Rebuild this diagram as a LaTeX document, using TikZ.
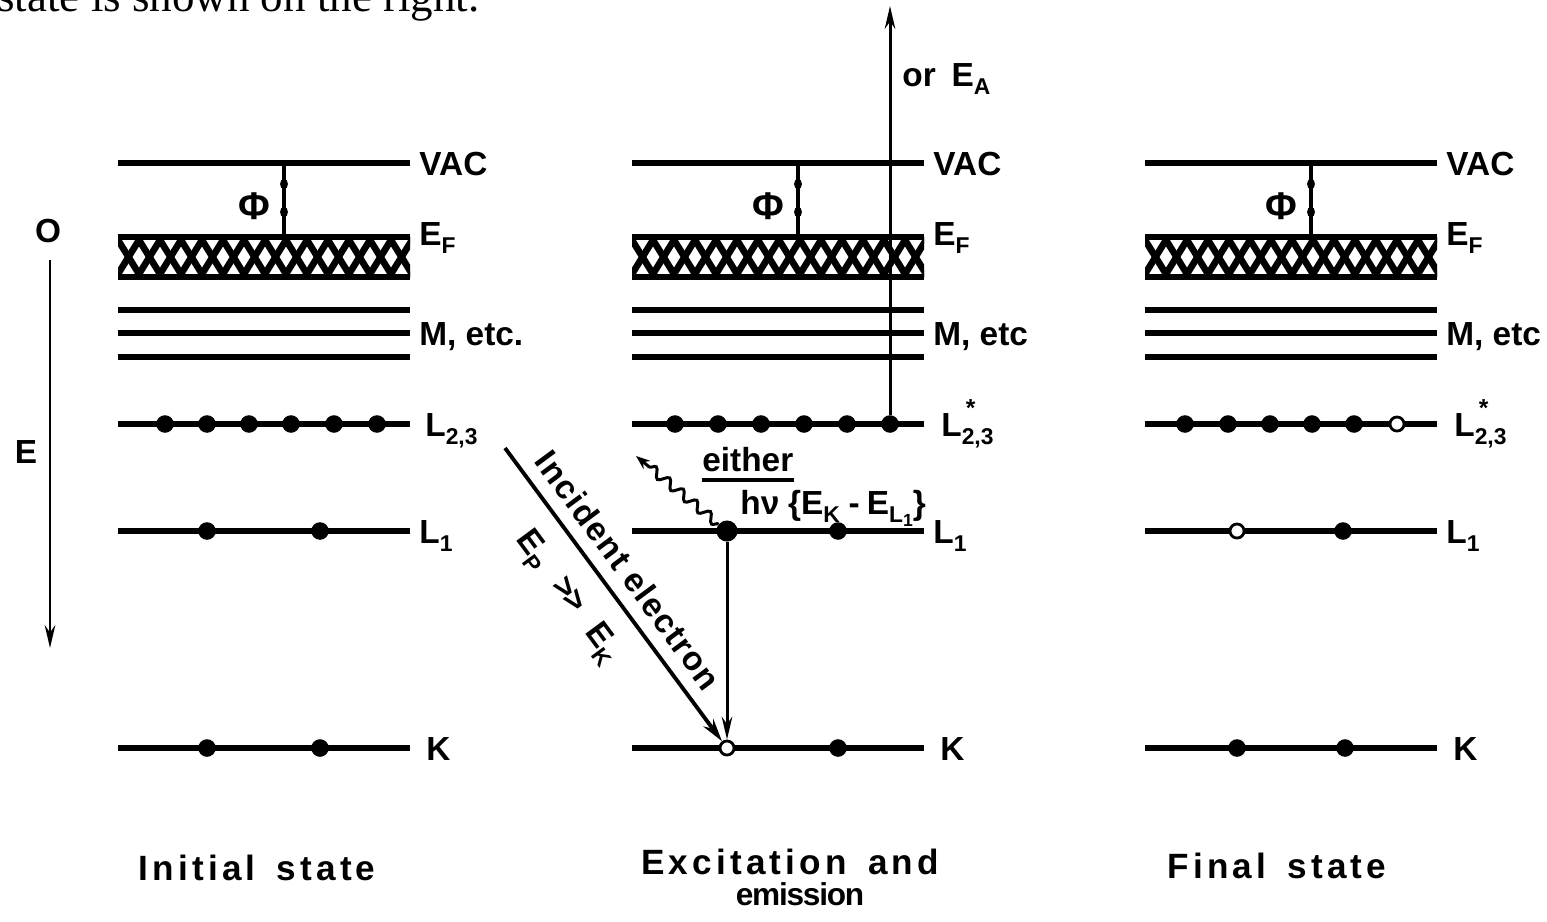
\documentclass[tikz,border=0pt]{standalone}
\usepackage{fontspec}
\setmainfont{Liberation Sans}
\newfontfamily\capserif{Liberation Serif}
\usetikzlibrary{arrows.meta,decorations.pathmorphing,shapes.geometric}

\newcommand\lsub[1]{\raisebox{-5pt}{\fontsize{13}{13}\selectfont #1}}
\newcommand\lstar[1]{\rlap{\raisebox{11pt}{\fontsize{14}{14}\selectfont\,*}}\raisebox{-5pt}{\fontsize{13}{13}\selectfont #1}}
\newcommand\labsize{\fontsize{19}{22}\selectfont\bfseries}

\tikzset{
  lvl/.style={line width=3.2pt},
  hatchline/.style={line width=3.8pt},
  philine/.style={line width=1.8pt},
  blob/.style={ellipse,fill=black,inner sep=0pt,minimum width=4.5pt,minimum height=6pt},
  dot/.style={circle,fill=black,inner sep=0pt,minimum size=10pt},
  bigdot/.style={circle,fill=black,inner sep=0pt,minimum size=12pt},
  hole/.style={circle,draw=black,fill=white,line width=1.6pt,inner sep=0pt,minimum size=8pt},
  lab/.style={anchor=base west,inner sep=0pt,font=\labsize},
  phis/.style={inner sep=0pt,font=\fontsize{22}{22}\selectfont\bfseries},
  thinarr/.style={line width=1.7pt,-{Stealth[length=13pt,width=6pt]}},
  incarr/.style={line width=2.2pt,-{Stealth[length=13pt,width=7pt]}},
  wave/.style={line width=1.7pt,decorate,
    decoration={snake,amplitude=2.6pt,segment length=10pt,post length=8pt},
    -{Stealth[length=8pt,width=6pt]}},
  btm/.style={inner sep=0pt,font=\fontsize{20}{24}\selectfont\bfseries\addfontfeature{LetterSpace=12}},
}

% levels of one panel: #1 = left x, #2 = name prefix, #3 = M label
\newcommand\drawlevels[3]{%
  \pgfmathsetmacro\xa{#1}%
  \pgfmathsetmacro\xb{#1+292}%
  \begin{scope}
    \clip (\xa,237) rectangle (\xb,277);
    \foreach \k in {-2,...,15}{%
      \draw[hatchline] ({\xa+21*\k-1.85},237) -- ({\xa+21*\k+22.85},277);
      \draw[hatchline] ({\xa+21*\k+1.85},237) -- ({\xa+21*\k-22.85},277);
    }
  \end{scope}
  \foreach \yy in {163,237,277,310,333,357,424,531,748}{\draw[lvl] (\xa,\yy) -- (\xb,\yy);}
  \coordinate (#2phitop) at (\xa+166,163);
  \coordinate (#2phibot) at (\xa+166,237);
  \draw[philine] (#2phitop) -- (#2phibot);
  \node[blob] (#2blobA) at (\xa+166,184) {};
  \node[blob] (#2blobB) at (\xa+166,212) {};
  \node[phis] (#2phi) at (\xa+136,206) {Φ};
  \node[lab] (#2vac) at (\xb+9,175) {VAC};
  \node[lab] (#2ef) at (\xb+9,245) {E\lsub{F}};
  \node[lab] (#2m) at (\xb+9,345) {#3};
  \node[lab] (#2lone) at (\xb+9,543) {L\lsub{1}};
  \node[lab] (#2k) at (\xb+16,760) {K};
}

\begin{document}
\begin{tikzpicture}[x=0.02cm,y=-0.02cm]
\fill[white] (0,0) rectangle (1547,921);
\useasboundingbox (0,0) rectangle (1547,921);

% cropped caption at top
\node[anchor=base west,inner sep=0pt,font=\capserif\fontsize{25.6}{30}\selectfont] (cap) at (-3,11) {state is shown on the right.};

% energy axis
\node[inner sep=0pt,font=\labsize] (zero) at (48,231) {O};
\coordinate (axtop) at (50,260);
\coordinate (axbot) at (50,648);
\draw[thinarr] (axtop) -- (axbot);
\node[inner sep=0pt,font=\labsize] (elab) at (26,452) {E};

% ---------- Initial state ----------
\drawlevels{118}{a}{M, etc.}
\node[lab] (aL23lab) at (425,436) {L\lsub{2,3}};
\foreach \xx [count=\i] in {165,207,249,291,334,377}{\node[dot] (aL23d\i) at (\xx,424) {};}
\node[dot] (aL1a) at (207,531) {};
\node[dot] (aL1b) at (320,531) {};
\node[dot] (aKa) at (207,748) {};
\node[dot] (aKb) at (320,748) {};

% ---------- Excitation and emission ----------
\drawlevels{632}{m}{M, etc}
\node[lab] (mL23lab) at (941,436) {L\lstar{2,3}};
\foreach \xx [count=\i] in {675,718,761,804,847}{\node[dot] (mL23d\i) at (\xx,424) {};}
\node[dot] (mL23f) at (890,424) {};
\node[bigdot] (mL1a) at (727,531) {};
\node[dot] (mL1b) at (838,531) {};
\node[hole] (mKo) at (727,748) {};
\node[dot] (mKb) at (838,748) {};

\coordinate (augtop) at (890,6);
\draw[thinarr] (mL23f) -- (augtop);
\node[lab] (orEA) at (902,86) {or\hspace{9pt}E\lsub{A}};

\draw[thinarr] (mL1a) -- (mKo);

\coordinate (waveend) at (636,456);
\draw[wave] (mL1a) -- (waveend);

\node[lab] (either) at (702,471) {either};
\draw[line width=2.6pt] ([yshift=-5pt]either.base west) -- ([yshift=-5pt]either.base east);
\node[lab] (hnu) at (740,514) {hν\hspace{5pt}\{E\lsub{K}\hspace{5pt}-\hspace{4pt}E\lsub{L\raisebox{-2pt}{\fontsize{10}{10}\selectfont 1}}\}};

\coordinate (incstart) at (505,448);
\draw[incarr] (incstart) --
  node[sloped,pos=0.47,above=7pt,inner sep=0pt,font=\labsize\addfontfeature{LetterSpace=4}] (inctext) {Incident electron}
  node[sloped,pos=0.43,below=12pt,inner sep=0pt,font=\labsize] (eptext) {E\lsub{P}\hspace{12pt}>\kern-1.5pt>\hspace{12pt}E\lsub{K}}
  (mKo);

% ---------- Final state ----------
\drawlevels{1145}{f}{M, etc}
\node[lab] (fL23lab) at (1454,436) {L\lstar{2,3}};
\foreach \xx [count=\i] in {1185,1228,1270,1312,1354}{\node[dot] (fL23d\i) at (\xx,424) {};}
\node[hole] (fL23o) at (1397,424) {};
\node[hole] (fL1o) at (1237,531) {};
\node[dot] (fL1b) at (1343,531) {};
\node[dot] (fKa) at (1237,748) {};
\node[dot] (fKb) at (1345,748) {};

% ---------- bottom captions ----------
\node[btm] (initial) at (257,868) {Initial\hspace{0.6em}state};
\node[btm] (excit) at (790,862) {Excitation\hspace{0.6em}and};
\node[anchor=base,inner sep=0pt,font=\fontsize{18}{20}\selectfont\bfseries\addfontfeature{LetterSpace=-4}] (emis) at (800,905) {emission};
\node[btm] (final) at (1277,866) {Final\hspace{0.6em}state};
\end{tikzpicture}
\end{document}
